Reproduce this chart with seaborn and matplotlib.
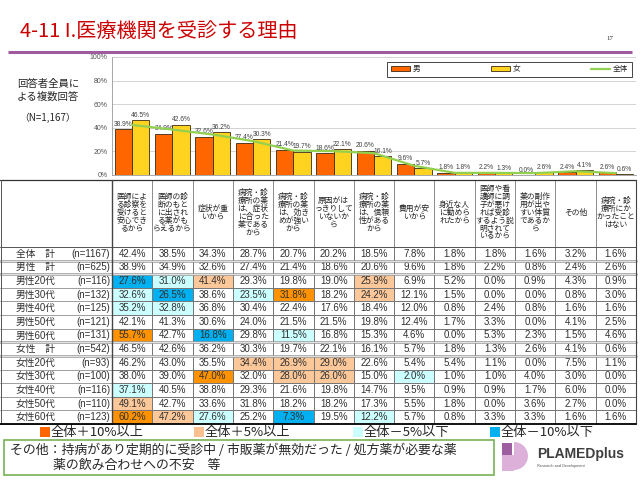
import numpy as np
import pandas as pd
import matplotlib
matplotlib.use('Agg')
import matplotlib.pyplot as plt
import seaborn as sns
from matplotlib.colors import ListedColormap
from matplotlib.patches import Rectangle, Wedge
from matplotlib.lines import Line2D

# ---- データ ----
reasons = [
    '医師によ\nる診察を\n受けると\n安心でき\nるから',
    '医師の診\n断のもと\nに出され\nる薬がも\nらえるから',
    '症状が重\nいから',
    '病院・診\n療所の薬\nは、症状\nに合った\n薬である\nから',
    '病院・診\n療所の薬\nは、効き\nめが強い\nから',
    '原因がは\nっきりして\nいないか\nら',
    '病院・診\n療所の薬\nは、信頼\n性がある\nから',
    '費用が安\nいから',
    '身近な人\nに勧めら\nれたから',
    '医師や看\n護師に調\n子が悪け\nれば受診\nするよう説\n明されて\nいるから',
    '薬の副作\n用が出や\nすい体質\nであるか\nら',
    'その他',
    '病院・診\n療所にか\nかったこと\nはない',
]

# グラフ用(グラフ上のラベル値)
bar_male = [38.9, 34.9, 32.6, 27.4, 21.4, 18.6, 20.6, 9.6, 1.8, 2.2, 0.0, 2.4, 2.6]
bar_female = [46.5, 42.6, 36.2, 30.3, 19.7, 22.1, 16.1, 5.7, 1.8, 1.3, 2.6, 4.1, 0.6]
bar_total = [42.4, 38.5, 34.3, 28.7, 20.7, 20.2, 18.5, 7.8, 1.8, 1.8, 1.6, 3.2, 1.6]

# 表用
row_names = ['全体　計', '男性　計', '男性20代', '男性30代', '男性40代', '男性50代', '男性60代',
             '女性　計', '女性20代', '女性30代', '女性40代', '女性50代', '女性60代']
row_n = [1167, 625, 116, 132, 125, 121, 131, 542, 93, 100, 116, 110, 123]
row_all = [42.4, 38.5, 34.3, 28.7, 20.7, 20.2, 18.5, 7.8, 1.8, 1.8, 1.6, 3.2, 1.6]
row_male = [38.9, 34.9, 32.6, 27.4, 21.4, 18.6, 20.6, 9.6, 1.8, 2.2, 0.8, 2.4, 2.6]
row_m20 = [27.6, 31.0, 41.4, 29.3, 19.8, 19.0, 25.9, 6.9, 5.2, 0.0, 0.9, 4.3, 0.9]
row_m30 = [32.6, 26.5, 38.6, 23.5, 31.8, 18.2, 24.2, 12.1, 1.5, 0.0, 0.0, 0.8, 3.0]
row_m40 = [35.2, 32.8, 36.8, 30.4, 22.4, 17.6, 18.4, 12.0, 0.8, 2.4, 0.8, 1.6, 1.6]
row_m50 = [42.1, 41.3, 30.6, 24.0, 21.5, 21.5, 19.8, 12.4, 1.7, 3.3, 0.0, 4.1, 2.5]
row_m60 = [55.7, 42.7, 16.8, 29.8, 11.5, 16.8, 15.3, 4.6, 0.0, 5.3, 2.3, 1.5, 4.6]
row_female = [46.5, 42.6, 36.2, 30.3, 19.7, 22.1, 16.1, 5.7, 1.8, 1.3, 2.6, 4.1, 0.6]
row_f20 = [46.2, 43.0, 35.5, 34.4, 26.9, 29.0, 22.6, 5.4, 5.4, 1.1, 0.0, 7.5, 1.1]
row_f30 = [38.0, 39.0, 47.0, 32.0, 28.0, 26.0, 15.0, 2.0, 1.0, 1.0, 4.0, 3.0, 0.0]
row_f40 = [37.1, 40.5, 38.8, 29.3, 21.6, 19.8, 14.7, 9.5, 0.9, 0.9, 1.7, 6.0, 0.0]
row_f50 = [49.1, 42.7, 33.6, 31.8, 18.2, 18.2, 17.3, 5.5, 1.8, 0.0, 3.6, 2.7, 0.0]
row_f60 = [60.2, 47.2, 27.6, 25.2, 7.3, 19.5, 12.2, 5.7, 0.8, 3.3, 3.3, 1.6, 1.6]

legend_labels = ['全体＋10%以上', '全体＋5%以上', '全体－5%以下', '全体－10%以下']
note_lines = ['その他：持病があり定期的に受診中 / 市販薬が無効だった / 処方薬が必要な薬',
              '薬の飲み合わせへの不安　等']

# ---- 色 ----
C_MALE = '#FF6600'
C_FEMALE = '#FFD320'
C_LINE = '#92D050'
CELL_COLORS = ['#FFFFFF', '#FCC89A', '#FF9200', '#CCFFFF', '#00B0F0']
LEG_COLORS = ['#FF6600', '#FAC090', '#CCFFFF', '#00B0F0']

sns.set_style('white')
plt.rcParams['font.family'] = ['Liberation Sans', 'Noto Sans CJK JP', 'DejaVu Sans']
CJK = ['Noto Sans CJK JP', 'DejaVu Sans']

W, H = 640, 480


def rect(x0, y0, x1, y1):
    # ピクセル座標(左上原点) -> figure座標
    return [x0 / W, 1 - y1 / H, (x1 - x0) / W, (y1 - y0) / H]


fig = plt.figure(figsize=(6.4, 4.8), dpi=100, facecolor='white')

# ---- 棒グラフ ----
keys = [f'r{i}' for i in range(len(reasons))]
bar_df = pd.DataFrame({
    '理由': keys * 2,
    '割合': bar_male + bar_female,
    '性別': ['男'] * len(keys) + ['女'] * len(keys),
})
ax_bar = fig.add_axes(rect(112, 57, 636, 175))
sns.barplot(data=bar_df, x='理由', y='割合', hue='性別', order=keys, hue_order=['男', '女'],
            palette=[C_MALE, C_FEMALE], saturation=1, width=0.86,
            edgecolor='#3a2a10', linewidth=0.6, legend=False, ax=ax_bar)
ax_bar.plot(np.arange(len(keys)), bar_total, color=C_LINE, lw=1.6, zorder=5)
for cont, vals in zip(ax_bar.containers, [bar_male, bar_female]):
    ax_bar.bar_label(cont, labels=[f'{v:.1f}%' for v in vals], fontsize=4.8,
                     padding=1, color='#404040')
ax_bar.set_ylim(0, 100)
ax_bar.set_xlim(-0.5, len(keys) - 0.5)
ax_bar.set_yticks(range(0, 101, 20))
ax_bar.set_yticklabels([f'{t}%' for t in range(0, 101, 20)], fontsize=5, color='#555555')
ax_bar.set_xticks([])
ax_bar.set_xlabel('')
ax_bar.set_ylabel('')
ax_bar.tick_params(axis='y', length=2, pad=1, color='#888888')
ax_bar.yaxis.grid(True, color='#cccccc', lw=0.6)
ax_bar.set_axisbelow(True)
for s in ['top', 'right']:
    ax_bar.spines[s].set_visible(False)
for s in ['left', 'bottom']:
    ax_bar.spines[s].set_color('#999999')
    ax_bar.spines[s].set_linewidth(0.6)
handles = [Rectangle((0, 0), 1, 1, fc=C_MALE, ec='#3a2a10', lw=0.6),
           Rectangle((0, 0), 1, 1, fc=C_FEMALE, ec='#3a2a10', lw=0.6),
           Line2D([0], [0], color=C_LINE, lw=1.6)]
leg = ax_bar.legend(handles, ['男', '女', '全体'], loc='lower left',
                    bbox_to_anchor=(0.525, 0.83, 0.467, 0.145), mode='expand',
                    ncol=3, fontsize=5.5, frameon=True, fancybox=False,
                    edgecolor='#444444', framealpha=1, handlelength=2.5,
                    handleheight=0.6, borderpad=0.5, handletextpad=0.3,
                    borderaxespad=0)
leg.get_frame().set_linewidth(0.7)
for t in leg.get_texts():
    t.set_x(0)

# ---- 表(ヒートマップ) ----
table = np.array([row_all, row_male, row_m20, row_m30, row_m40, row_m50, row_m60,
                  row_female, row_f20, row_f30, row_f40, row_f50, row_f60])
diff = np.round(table - np.array(row_all), 1)
cat = np.zeros_like(diff, dtype=int)
cat[diff >= 5] = 1
cat[diff >= 10] = 2
cat[diff <= -5] = 3
cat[diff <= -10] = 4
annot = np.vectorize(lambda v: f'{v:.1f}%')(table)

TX0, TX1, TY0, TY1 = 112, 636, 247, 424
ax_tab = fig.add_axes(rect(TX0, TY0, TX1, TY1))
sns.heatmap(pd.DataFrame(cat, index=row_names, columns=keys), ax=ax_tab,
            cmap=ListedColormap(CELL_COLORS), vmin=-0.5, vmax=4.5, cbar=False,
            annot=annot, fmt='', annot_kws={'fontsize': 7, 'color': '#303030'},
            linewidths=0.5, linecolor='#777777', xticklabels=False, yticklabels=False)

# ---- 装飾 ----
ov = fig.add_axes([0, 0, 1, 1])
ov.set_xlim(0, W)
ov.set_ylim(H, 0)
ov.axis('off')

ov.text(20, 31, '4-11 I.医療機関を受診する理由', fontsize=14.5, color='#CC0000',
        family=CJK, va='center', ha='left')
ov.text(606, 38, '17', fontsize=5, family='Liberation Serif', va='center')
ov.plot([8, 632], [52, 52], color='#9E5B9E', lw=2.2, solid_capstyle='butt')

ov.text(48, 84, '回答者全員に', fontsize=7.5, family=CJK, ha='center', va='center')
ov.text(48, 97, 'よる複数回答', fontsize=7.5, family=CJK, ha='center', va='center')
ov.text(48, 118, '（N=1,167）', fontsize=7, family=CJK, ha='center', va='center')

cw = (TX1 - TX0) / len(keys)
rh = (TY1 - TY0) / len(row_names)
for i, r in enumerate(reasons):
    ov.text(TX0 + cw * (i + 0.5), 213, r, fontsize=5.6, family=CJK, ha='center',
            va='center', linespacing=0.98, color='#222222')
for k in range(len(keys) + 1):
    ov.plot([TX0 + cw * k] * 2, [180, TY0], color='#777777', lw=0.6)
ov.plot([0, TX1], [180, 180], color='#333333', lw=0.9)
ov.plot([0, TX1], [TY0, TY0], color='#555555', lw=0.7)
for j, (nm, n) in enumerate(zip(row_names, row_n)):
    yc = TY0 + rh * (j + 0.5)
    ov.text(36, yc, nm, fontsize=7, ha='center', va='center', color='#303030')
    ov.text(110, yc, f'(n={n})', fontsize=7, ha='right', va='center', color='#303030')
    ov.plot([0, TX0], [TY0 + rh * (j + 1)] * 2, color='#777777', lw=0.5)
for j in [1, 2, 7, 8]:
    yy = TY0 + rh * j
    ov.plot([0, TX1], [yy, yy], color='#999999', lw=1.8)
    ov.plot([0, TX1], [yy, yy], color='white', lw=0.5)
ov.plot([0.5, 0.5], [180, TY1], color='#555555', lw=0.7)
ov.plot([TX0, TX0], [180, TY1], color='#444444', lw=1.0)
ov.plot([TX1, TX1], [180, TY1], color='#444444', lw=0.8)
ov.plot([0, TX1], [TY1, TY1], color='black', lw=1.3)

# 凡例(色分け)
for x, c, lab in zip([40, 194, 353, 490], LEG_COLORS, legend_labels):
    ov.add_patch(Rectangle((x, 427), 10, 10, fc=c, ec='none'))
    ov.text(x + 11, 432.5, lab, fontsize=9.5, family=CJK, va='center', ha='left')

# その他
ov.add_patch(Rectangle((4, 440), 490, 35, fill=False, ec='#77B255', lw=1.2))
ov.text(10, 450, note_lines[0], fontsize=9.3, family=CJK, va='center', ha='left')
ov.text(53, 465, note_lines[1], fontsize=9.3, family=CJK, va='center', ha='left')

# ロゴ
ov.add_patch(Rectangle((502, 455), 12, 16, fc='#DDB0DA', ec='none'))
ov.add_patch(Wedge((514, 456), 14, -90, 90, fc='#DDB0DA', ec='none'))
ov.add_patch(Rectangle((502, 443), 10, 12, fc='#9E5FA0', ec='none'))
ov.text(537, 454, 'PLAMEDplus', fontsize=10, weight='bold', color='#3F3F3F',
        family='Liberation Sans', va='center', ha='left')
ov.text(537, 466, 'Research and Development', fontsize=2.8, color='#555555',
        va='center', ha='left')

fig.savefig('out.png', dpi=100, facecolor='white')
